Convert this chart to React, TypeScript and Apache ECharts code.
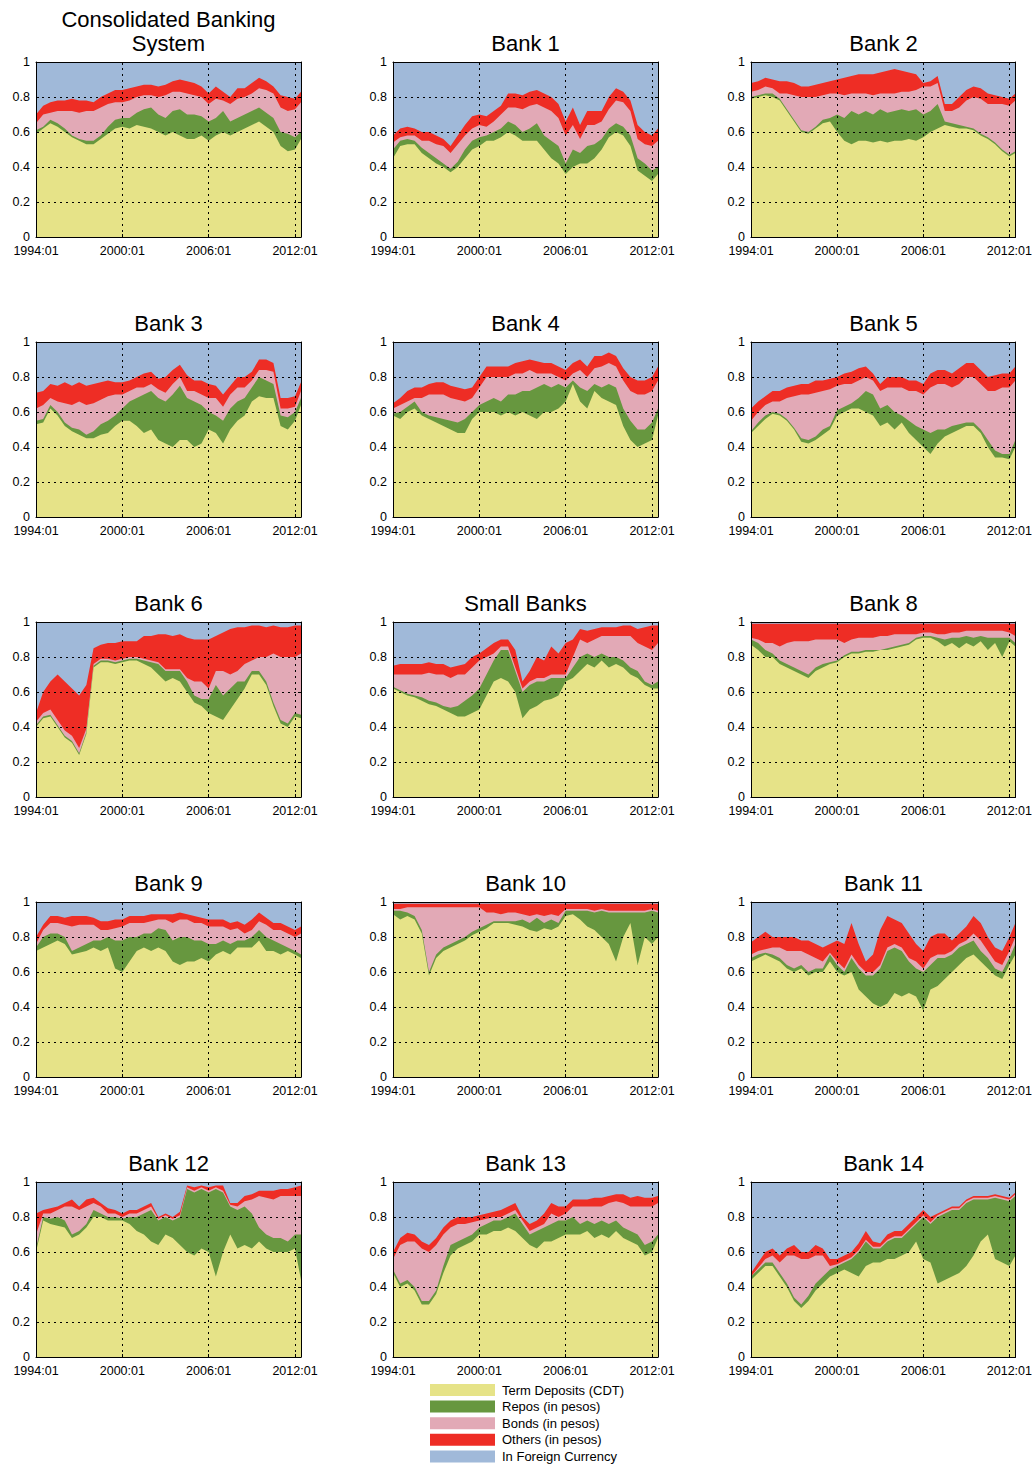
import React, { useEffect, useRef } from "react";
import * as echarts from "echarts";

// Months since 1994:01 (semi-annual readings, last point = end of sample)
const months = [0, 6, 12, 18, 24, 30, 36, 42, 48, 54, 60, 66, 72, 78, 84, 90, 96, 102, 108, 114, 120, 126, 132, 138, 144, 150, 156, 162, 168, 174, 180, 186, 192, 198, 204, 210, 216, 221];
const tickMonths = [0, 72, 144, 216];
const tickLabels = ["1994:01", "2000:01", "2006:01", "2012:01"];

const categoryNames = ["Term Deposits (CDT)", "Repos (in pesos)", "Bonds (in pesos)", "Others (in pesos)", "In Foreign Currency"];
const categoryColors = ["#e6e388", "#67973f", "#e2a9b6", "#ee2d25", "#a0b9d9"];

// Cumulative shares (top of each layer): TD, TD+Repo, +Bonds, +Others. Foreign currency fills the rest up to 1.
const cbsTD = [0.59,0.62,0.65,0.63,0.60,0.57,0.55,0.53,0.53,0.56, 0.59,0.62,0.63,0.62,0.64,0.63,0.62,0.60,0.58,0.60, 0.58,0.56,0.56,0.58,0.55,0.58,0.60,0.58,0.60,0.62, 0.64,0.66,0.63,0.60,0.52,0.49,0.50,0.56];
const cbsRepo = [0.61,0.63,0.67,0.65,0.62,0.58,0.56,0.55,0.55,0.58, 0.63,0.67,0.68,0.68,0.71,0.73,0.74,0.70,0.68,0.72, 0.73,0.70,0.70,0.69,0.66,0.68,0.72,0.66,0.68,0.70, 0.72,0.74,0.71,0.68,0.60,0.59,0.57,0.60];
const cbsBonds = [0.65,0.70,0.71,0.72,0.72,0.72,0.71,0.72,0.72,0.74, 0.76,0.77,0.77,0.78,0.80,0.81,0.81,0.80,0.81,0.83, 0.83,0.82,0.81,0.80,0.76,0.79,0.78,0.76,0.79,0.80, 0.82,0.85,0.84,0.82,0.74,0.72,0.73,0.77];
const cbsOthers = [0.70,0.75,0.77,0.78,0.78,0.79,0.78,0.78,0.77,0.80, 0.82,0.84,0.84,0.85,0.86,0.87,0.87,0.86,0.87,0.89, 0.90,0.89,0.88,0.86,0.82,0.86,0.83,0.80,0.85,0.85, 0.88,0.91,0.89,0.86,0.81,0.80,0.79,0.83];

const b1TD = [0.45,0.52,0.53,0.53,0.48,0.45,0.42,0.40,0.37,0.40, 0.45,0.50,0.52,0.55,0.55,0.57,0.60,0.58,0.55,0.55, 0.55,0.50,0.45,0.42,0.36,0.40,0.42,0.42,0.45,0.50, 0.57,0.60,0.58,0.52,0.38,0.35,0.32,0.36];
const b1Repo = [0.50,0.55,0.56,0.55,0.51,0.48,0.45,0.42,0.39,0.43, 0.50,0.55,0.57,0.58,0.60,0.62,0.66,0.64,0.60,0.62, 0.65,0.58,0.55,0.52,0.42,0.50,0.48,0.52,0.53,0.56, 0.62,0.65,0.63,0.58,0.45,0.42,0.38,0.40];
const b1Bonds = [0.54,0.57,0.58,0.58,0.55,0.55,0.53,0.52,0.48,0.53, 0.58,0.62,0.64,0.63,0.66,0.70,0.74,0.74,0.73,0.75, 0.76,0.74,0.72,0.68,0.58,0.64,0.56,0.64,0.64,0.66, 0.73,0.78,0.77,0.72,0.56,0.53,0.52,0.55];
const b1Others = [0.58,0.62,0.63,0.62,0.60,0.60,0.58,0.56,0.52,0.58, 0.64,0.69,0.70,0.69,0.72,0.75,0.82,0.82,0.81,0.83, 0.84,0.82,0.80,0.76,0.66,0.74,0.64,0.72,0.72,0.72, 0.80,0.85,0.83,0.78,0.64,0.60,0.58,0.62];

const b2TD = [0.79,0.80,0.81,0.80,0.78,0.72,0.66,0.60,0.59,0.62, 0.65,0.66,0.60,0.55,0.53,0.55,0.55,0.54,0.55,0.54, 0.55,0.55,0.56,0.55,0.57,0.60,0.62,0.64,0.63,0.62, 0.62,0.61,0.58,0.56,0.53,0.49,0.46,0.48];
const b2Repo = [0.80,0.81,0.82,0.82,0.79,0.73,0.67,0.61,0.60,0.63, 0.67,0.68,0.70,0.68,0.72,0.70,0.72,0.70,0.73,0.71, 0.72,0.73,0.72,0.73,0.70,0.72,0.76,0.66,0.65,0.64, 0.63,0.62,0.59,0.57,0.54,0.50,0.47,0.49];
const b2Bonds = [0.83,0.84,0.86,0.85,0.82,0.82,0.81,0.80,0.80,0.80, 0.81,0.82,0.82,0.81,0.82,0.82,0.82,0.81,0.82,0.82, 0.82,0.83,0.83,0.84,0.86,0.86,0.88,0.72,0.72,0.74, 0.78,0.80,0.79,0.76,0.76,0.76,0.75,0.78];
const b2Others = [0.88,0.89,0.91,0.90,0.89,0.89,0.88,0.86,0.86,0.87, 0.88,0.89,0.90,0.91,0.92,0.93,0.93,0.93,0.94,0.95, 0.96,0.95,0.94,0.93,0.88,0.89,0.92,0.76,0.76,0.80, 0.84,0.86,0.85,0.82,0.81,0.80,0.79,0.82];

const b3TD = [0.53,0.54,0.62,0.58,0.52,0.49,0.47,0.45,0.45,0.47, 0.48,0.52,0.55,0.55,0.52,0.48,0.50,0.44,0.42,0.40, 0.44,0.44,0.40,0.42,0.50,0.48,0.42,0.50,0.55,0.58, 0.66,0.69,0.68,0.68,0.52,0.50,0.55,0.64];
const b3Repo = [0.55,0.56,0.64,0.60,0.54,0.51,0.50,0.47,0.49,0.53, 0.55,0.58,0.62,0.66,0.68,0.70,0.72,0.68,0.66,0.70, 0.75,0.68,0.66,0.64,0.60,0.58,0.55,0.62,0.66,0.68, 0.74,0.80,0.78,0.76,0.58,0.57,0.60,0.68];
const b3Bonds = [0.62,0.64,0.68,0.66,0.65,0.64,0.66,0.64,0.65,0.67, 0.69,0.70,0.70,0.72,0.74,0.74,0.76,0.73,0.71,0.76, 0.80,0.72,0.72,0.70,0.68,0.68,0.63,0.70,0.74,0.74, 0.78,0.84,0.84,0.83,0.62,0.62,0.63,0.72];
const b3Others = [0.71,0.72,0.76,0.75,0.77,0.75,0.77,0.75,0.76,0.77, 0.78,0.77,0.77,0.78,0.80,0.82,0.83,0.79,0.80,0.84, 0.87,0.81,0.78,0.78,0.76,0.75,0.70,0.75,0.80,0.80, 0.83,0.90,0.90,0.88,0.68,0.68,0.69,0.77];

const b4TD = [0.58,0.56,0.60,0.62,0.58,0.56,0.54,0.52,0.50,0.48, 0.48,0.56,0.60,0.60,0.60,0.58,0.60,0.58,0.60,0.58, 0.56,0.60,0.60,0.62,0.66,0.76,0.66,0.62,0.72,0.68, 0.66,0.64,0.52,0.44,0.40,0.42,0.44,0.58];
const b4Repo = [0.59,0.60,0.63,0.66,0.60,0.58,0.57,0.56,0.55,0.54, 0.56,0.60,0.64,0.66,0.68,0.66,0.70,0.70,0.72,0.72, 0.74,0.76,0.74,0.76,0.74,0.78,0.74,0.72,0.76,0.74, 0.76,0.74,0.62,0.55,0.50,0.50,0.54,0.62];
const b4Bonds = [0.62,0.64,0.66,0.68,0.68,0.70,0.70,0.70,0.68,0.67, 0.66,0.68,0.74,0.80,0.80,0.80,0.80,0.82,0.82,0.84, 0.82,0.82,0.82,0.80,0.78,0.82,0.84,0.80,0.85,0.86, 0.88,0.86,0.78,0.72,0.70,0.70,0.72,0.78];
const b4Others = [0.65,0.68,0.72,0.74,0.74,0.76,0.77,0.77,0.75,0.74, 0.73,0.74,0.80,0.86,0.86,0.86,0.86,0.88,0.89,0.90, 0.89,0.88,0.88,0.86,0.84,0.88,0.90,0.86,0.92,0.92, 0.94,0.92,0.85,0.80,0.78,0.78,0.80,0.86];

const b5TD = [0.48,0.52,0.56,0.59,0.58,0.55,0.50,0.43,0.42,0.44, 0.47,0.50,0.58,0.60,0.62,0.62,0.60,0.58,0.52,0.54, 0.50,0.54,0.48,0.44,0.40,0.36,0.42,0.46,0.48,0.50, 0.52,0.52,0.48,0.40,0.34,0.34,0.33,0.40];
const b5Repo = [0.49,0.54,0.58,0.60,0.59,0.56,0.51,0.45,0.44,0.46, 0.50,0.52,0.61,0.63,0.65,0.68,0.72,0.70,0.62,0.64, 0.60,0.58,0.55,0.52,0.50,0.48,0.50,0.50,0.52,0.53, 0.54,0.54,0.50,0.44,0.38,0.36,0.36,0.44];
const b5Bonds = [0.55,0.60,0.64,0.66,0.66,0.68,0.69,0.70,0.70,0.71, 0.72,0.73,0.75,0.76,0.76,0.78,0.80,0.78,0.72,0.74, 0.74,0.74,0.72,0.72,0.70,0.74,0.76,0.76,0.74,0.76, 0.80,0.80,0.76,0.72,0.72,0.74,0.74,0.78];
const b5Others = [0.62,0.66,0.69,0.72,0.72,0.74,0.75,0.76,0.76,0.78, 0.78,0.79,0.80,0.82,0.83,0.85,0.86,0.82,0.76,0.80, 0.80,0.80,0.78,0.78,0.76,0.82,0.84,0.84,0.82,0.85, 0.88,0.88,0.84,0.80,0.81,0.82,0.82,0.86];

const b6TD = [0.40,0.45,0.46,0.40,0.34,0.31,0.24,0.36,0.74,0.77, 0.77,0.76,0.77,0.78,0.78,0.76,0.74,0.70,0.66,0.68, 0.66,0.60,0.54,0.52,0.48,0.46,0.44,0.50,0.56,0.62, 0.70,0.70,0.64,0.52,0.42,0.40,0.46,0.45];
const b6Repo = [0.41,0.46,0.47,0.41,0.35,0.32,0.25,0.37,0.75,0.78, 0.78,0.77,0.78,0.79,0.79,0.78,0.77,0.76,0.72,0.72, 0.72,0.66,0.58,0.56,0.56,0.64,0.58,0.62,0.66,0.66, 0.72,0.72,0.66,0.54,0.44,0.42,0.48,0.47];
const b6Bonds = [0.43,0.48,0.50,0.44,0.38,0.35,0.28,0.39,0.76,0.79, 0.79,0.78,0.79,0.80,0.80,0.79,0.78,0.77,0.73,0.73, 0.73,0.68,0.66,0.66,0.62,0.72,0.72,0.70,0.72,0.76, 0.78,0.80,0.80,0.82,0.80,0.80,0.80,0.82];
const b6Others = [0.48,0.60,0.66,0.70,0.66,0.62,0.58,0.64,0.85,0.87, 0.88,0.88,0.89,0.89,0.89,0.92,0.92,0.93,0.93,0.92, 0.93,0.91,0.90,0.90,0.90,0.92,0.94,0.96,0.97,0.97, 0.98,0.98,0.97,0.98,0.97,0.97,0.98,0.98];

const smTD = [0.62,0.60,0.58,0.57,0.55,0.53,0.52,0.50,0.48,0.46, 0.46,0.48,0.50,0.58,0.66,0.68,0.66,0.60,0.45,0.50, 0.52,0.55,0.56,0.58,0.66,0.68,0.72,0.76,0.74,0.78, 0.74,0.76,0.74,0.70,0.68,0.64,0.62,0.62];
const smRepo = [0.63,0.61,0.59,0.58,0.57,0.55,0.54,0.52,0.51,0.52, 0.55,0.58,0.62,0.70,0.78,0.84,0.84,0.72,0.60,0.64, 0.66,0.66,0.68,0.68,0.68,0.74,0.80,0.82,0.80,0.82, 0.80,0.80,0.78,0.74,0.72,0.66,0.64,0.66];
const smBonds = [0.70,0.70,0.70,0.70,0.70,0.71,0.70,0.70,0.68,0.70, 0.70,0.74,0.78,0.80,0.82,0.86,0.86,0.74,0.62,0.66, 0.68,0.68,0.70,0.70,0.70,0.80,0.90,0.88,0.90,0.92, 0.92,0.92,0.92,0.92,0.88,0.86,0.84,0.88];
const smOthers = [0.75,0.76,0.76,0.76,0.76,0.77,0.76,0.76,0.74,0.75, 0.76,0.80,0.82,0.85,0.88,0.90,0.90,0.84,0.66,0.72, 0.80,0.78,0.86,0.82,0.88,0.90,0.96,0.95,0.96,0.97, 0.97,0.97,0.98,0.98,0.96,0.97,0.98,0.98];

const b8TD = [0.87,0.84,0.80,0.80,0.76,0.74,0.72,0.70,0.68,0.72, 0.74,0.76,0.77,0.80,0.82,0.82,0.83,0.83,0.84,0.84, 0.85,0.86,0.87,0.90,0.91,0.91,0.89,0.86,0.88,0.85, 0.88,0.86,0.89,0.84,0.88,0.80,0.89,0.86];
const b8Repo = [0.90,0.88,0.84,0.82,0.78,0.76,0.74,0.72,0.70,0.74, 0.76,0.77,0.78,0.81,0.83,0.83,0.84,0.84,0.84,0.85, 0.86,0.87,0.88,0.91,0.92,0.92,0.91,0.90,0.91,0.91, 0.92,0.91,0.92,0.91,0.91,0.91,0.91,0.88];
const b8Bonds = [0.91,0.90,0.88,0.88,0.86,0.88,0.89,0.89,0.89,0.90, 0.90,0.90,0.90,0.88,0.90,0.91,0.91,0.91,0.92,0.92, 0.93,0.93,0.93,0.93,0.94,0.94,0.93,0.93,0.94,0.94, 0.95,0.95,0.95,0.95,0.95,0.95,0.94,0.92];
const b8Others = [0.99,0.99,0.99,0.99,0.99,0.99,0.99,0.99,0.99,0.99, 0.99,0.99,0.99,0.99,0.99,0.99,0.99,0.99,0.99,0.99, 0.99,0.99,0.99,0.99,0.99,0.99,0.99,0.99,0.99,0.99, 0.99,0.99,0.99,0.99,0.99,0.99,0.99,0.99];

const b9TD = [0.72,0.74,0.76,0.78,0.76,0.70,0.71,0.72,0.74,0.72, 0.74,0.62,0.60,0.66,0.72,0.74,0.72,0.74,0.72,0.66, 0.64,0.66,0.66,0.68,0.66,0.70,0.72,0.70,0.74,0.74, 0.74,0.78,0.72,0.72,0.70,0.72,0.70,0.68];
const b9Repo = [0.74,0.80,0.82,0.82,0.80,0.72,0.74,0.76,0.78,0.78, 0.80,0.78,0.78,0.80,0.80,0.82,0.82,0.85,0.84,0.78, 0.80,0.80,0.78,0.78,0.76,0.76,0.78,0.76,0.78,0.78, 0.80,0.84,0.80,0.78,0.76,0.74,0.72,0.70];
const b9Bonds = [0.76,0.84,0.88,0.88,0.87,0.86,0.87,0.87,0.87,0.84, 0.84,0.85,0.86,0.88,0.88,0.88,0.89,0.90,0.90,0.88, 0.90,0.90,0.88,0.88,0.86,0.86,0.86,0.84,0.85,0.82, 0.84,0.89,0.87,0.84,0.84,0.82,0.80,0.82];
const b9Others = [0.80,0.87,0.92,0.92,0.91,0.92,0.92,0.92,0.91,0.89, 0.89,0.90,0.90,0.92,0.92,0.92,0.93,0.93,0.93,0.93, 0.94,0.93,0.92,0.91,0.90,0.90,0.90,0.88,0.89,0.87, 0.90,0.94,0.91,0.88,0.88,0.86,0.84,0.86];

const b10TD = [0.93,0.90,0.92,0.90,0.82,0.58,0.68,0.72,0.74,0.76, 0.78,0.81,0.83,0.85,0.88,0.88,0.88,0.87,0.86,0.84, 0.83,0.85,0.84,0.86,0.92,0.93,0.90,0.86,0.84,0.80, 0.76,0.66,0.80,0.88,0.64,0.80,0.76,0.80];
const b10Repo = [0.95,0.95,0.94,0.92,0.84,0.60,0.70,0.74,0.76,0.78, 0.80,0.83,0.85,0.87,0.89,0.89,0.89,0.89,0.90,0.88, 0.91,0.88,0.90,0.88,0.95,0.95,0.95,0.95,0.94,0.95, 0.94,0.94,0.94,0.94,0.94,0.94,0.95,0.94];
const b10Bonds = [0.96,0.96,0.97,0.97,0.97,0.97,0.97,0.97,0.97,0.97, 0.97,0.97,0.97,0.94,0.94,0.93,0.94,0.94,0.93,0.92, 0.93,0.92,0.93,0.92,0.96,0.96,0.96,0.96,0.95,0.96, 0.95,0.95,0.95,0.95,0.95,0.95,0.96,0.95];
const b10Others = [0.99,0.99,0.99,0.99,0.99,0.99,0.99,0.99,0.99,0.99, 0.99,0.99,0.99,0.99,0.99,0.99,0.99,0.99,0.99,0.99, 0.99,0.99,0.99,0.99,0.99,0.99,0.99,0.99,0.99,0.99, 0.99,0.99,0.99,0.99,0.99,0.99,0.99,0.99];

const b11TD = [0.66,0.68,0.70,0.68,0.66,0.62,0.60,0.62,0.58,0.60, 0.60,0.66,0.60,0.58,0.60,0.50,0.46,0.42,0.40,0.42, 0.48,0.46,0.48,0.46,0.38,0.50,0.52,0.56,0.60,0.64, 0.68,0.70,0.66,0.62,0.58,0.56,0.64,0.70];
const b11Repo = [0.68,0.70,0.71,0.70,0.68,0.64,0.62,0.64,0.60,0.62, 0.62,0.70,0.64,0.60,0.68,0.62,0.58,0.58,0.62,0.72, 0.74,0.72,0.66,0.62,0.60,0.64,0.68,0.68,0.70,0.74, 0.76,0.78,0.72,0.68,0.62,0.60,0.68,0.76];
const b11Bonds = [0.70,0.72,0.73,0.74,0.74,0.72,0.72,0.72,0.70,0.68, 0.66,0.71,0.66,0.62,0.70,0.64,0.60,0.60,0.64,0.74, 0.76,0.74,0.68,0.66,0.62,0.68,0.70,0.70,0.72,0.76, 0.78,0.82,0.78,0.72,0.66,0.64,0.72,0.80];
const b11Others = [0.77,0.80,0.83,0.80,0.80,0.80,0.80,0.78,0.78,0.76, 0.74,0.76,0.78,0.76,0.88,0.76,0.66,0.70,0.84,0.92, 0.90,0.88,0.82,0.76,0.72,0.80,0.82,0.82,0.78,0.82, 0.86,0.92,0.88,0.80,0.74,0.72,0.80,0.88];

const b12TD = [0.60,0.78,0.76,0.75,0.74,0.68,0.70,0.74,0.80,0.80, 0.78,0.78,0.78,0.76,0.72,0.70,0.66,0.64,0.70,0.68, 0.64,0.60,0.58,0.62,0.60,0.46,0.60,0.70,0.62,0.64, 0.62,0.66,0.62,0.60,0.60,0.60,0.62,0.44];
const b12Repo = [0.62,0.80,0.79,0.80,0.78,0.70,0.72,0.76,0.84,0.82, 0.80,0.80,0.79,0.80,0.80,0.82,0.84,0.78,0.80,0.78, 0.80,0.96,0.94,0.96,0.94,0.96,0.94,0.86,0.84,0.86, 0.82,0.74,0.70,0.68,0.68,0.66,0.70,0.70];
const b12Bonds = [0.70,0.82,0.82,0.84,0.86,0.86,0.84,0.86,0.88,0.86, 0.82,0.82,0.80,0.82,0.82,0.84,0.86,0.79,0.81,0.79, 0.81,0.97,0.95,0.97,0.95,0.97,0.95,0.87,0.86,0.89, 0.90,0.92,0.91,0.90,0.92,0.92,0.92,0.92];
const b12Others = [0.82,0.84,0.85,0.86,0.88,0.90,0.86,0.90,0.91,0.88, 0.85,0.84,0.82,0.84,0.84,0.86,0.88,0.80,0.82,0.80, 0.83,0.98,0.97,0.98,0.97,0.98,0.98,0.88,0.88,0.92, 0.93,0.95,0.95,0.95,0.96,0.96,0.97,0.98];

const b13TD = [0.48,0.40,0.42,0.38,0.30,0.30,0.36,0.48,0.58,0.62, 0.64,0.66,0.70,0.70,0.72,0.72,0.74,0.72,0.68,0.64, 0.62,0.66,0.66,0.68,0.70,0.70,0.70,0.72,0.68,0.70, 0.68,0.72,0.68,0.66,0.64,0.58,0.60,0.68];
const b13Repo = [0.50,0.42,0.44,0.40,0.32,0.32,0.38,0.52,0.64,0.66, 0.68,0.70,0.74,0.76,0.78,0.78,0.80,0.82,0.76,0.70, 0.72,0.74,0.76,0.78,0.78,0.80,0.76,0.78,0.76,0.78, 0.76,0.78,0.74,0.72,0.70,0.64,0.66,0.70];
const b13Bonds = [0.56,0.64,0.66,0.66,0.62,0.60,0.64,0.70,0.74,0.76, 0.76,0.77,0.78,0.79,0.80,0.80,0.82,0.84,0.78,0.72, 0.74,0.76,0.82,0.80,0.82,0.86,0.86,0.86,0.86,0.86, 0.88,0.89,0.88,0.86,0.86,0.86,0.86,0.88];
const b13Others = [0.60,0.68,0.71,0.70,0.66,0.64,0.68,0.74,0.78,0.80, 0.80,0.80,0.81,0.82,0.83,0.84,0.86,0.88,0.80,0.76, 0.78,0.82,0.88,0.86,0.86,0.90,0.90,0.90,0.91,0.91, 0.92,0.93,0.93,0.91,0.92,0.91,0.91,0.92];

const b14TD = [0.44,0.48,0.52,0.52,0.46,0.40,0.32,0.28,0.32,0.38, 0.42,0.46,0.48,0.50,0.48,0.46,0.52,0.54,0.54,0.56, 0.56,0.58,0.60,0.66,0.56,0.54,0.42,0.44,0.46,0.48, 0.52,0.58,0.66,0.70,0.56,0.54,0.52,0.58];
const b14Repo = [0.46,0.50,0.54,0.54,0.48,0.42,0.34,0.30,0.35,0.42, 0.46,0.50,0.52,0.54,0.56,0.60,0.66,0.62,0.62,0.66, 0.68,0.68,0.72,0.76,0.80,0.76,0.80,0.82,0.84,0.84, 0.88,0.90,0.90,0.90,0.91,0.90,0.89,0.92];
const b14Bonds = [0.46,0.51,0.56,0.58,0.54,0.58,0.58,0.56,0.56,0.58, 0.58,0.52,0.53,0.55,0.57,0.61,0.67,0.63,0.63,0.67, 0.69,0.69,0.73,0.77,0.81,0.77,0.81,0.83,0.85,0.85, 0.89,0.91,0.91,0.91,0.92,0.91,0.90,0.93];
const b14Others = [0.48,0.54,0.60,0.62,0.58,0.62,0.64,0.60,0.60,0.64, 0.62,0.56,0.56,0.58,0.60,0.65,0.72,0.66,0.65,0.70, 0.72,0.72,0.76,0.80,0.84,0.80,0.82,0.84,0.86,0.86, 0.90,0.92,0.92,0.92,0.93,0.92,0.91,0.94];

const panels = [
  { title: "Consolidated Banking\nSystem", td: cbsTD, repo: cbsRepo, bonds: cbsBonds, others: cbsOthers },
  { title: "Bank 1", td: b1TD, repo: b1Repo, bonds: b1Bonds, others: b1Others },
  { title: "Bank 2", td: b2TD, repo: b2Repo, bonds: b2Bonds, others: b2Others },
  { title: "Bank 3", td: b3TD, repo: b3Repo, bonds: b3Bonds, others: b3Others },
  { title: "Bank 4", td: b4TD, repo: b4Repo, bonds: b4Bonds, others: b4Others },
  { title: "Bank 5", td: b5TD, repo: b5Repo, bonds: b5Bonds, others: b5Others },
  { title: "Bank 6", td: b6TD, repo: b6Repo, bonds: b6Bonds, others: b6Others },
  { title: "Small Banks", td: smTD, repo: smRepo, bonds: smBonds, others: smOthers },
  { title: "Bank 8", td: b8TD, repo: b8Repo, bonds: b8Bonds, others: b8Others },
  { title: "Bank 9", td: b9TD, repo: b9Repo, bonds: b9Bonds, others: b9Others },
  { title: "Bank 10", td: b10TD, repo: b10Repo, bonds: b10Bonds, others: b10Others },
  { title: "Bank 11", td: b11TD, repo: b11Repo, bonds: b11Bonds, others: b11Others },
  { title: "Bank 12", td: b12TD, repo: b12Repo, bonds: b12Bonds, others: b12Others },
  { title: "Bank 13", td: b13TD, repo: b13Repo, bonds: b13Bonds, others: b13Others },
  { title: "Bank 14", td: b14TD, repo: b14Repo, bonds: b14Bonds, others: b14Others },
];

const FONT = "'Liberation Sans', Arial, Helvetica, sans-serif";
const colLeft = [36, 393, 751];
const rowTop = [62, 342, 622, 902, 1182];
const plotW = 265;
const plotH = 175;

function buildOption() {
  const grid: any[] = [];
  const xAxis: any[] = [];
  const yAxis: any[] = [];
  const series: any[] = [];
  const title: any[] = [];
  const dotted = { show: true, lineStyle: { color: "#000", width: 1, type: [2, 4] } };
  const frameLine = { show: true, onZero: false, lineStyle: { color: "#000", width: 1 } };
  const innerTick = { show: true, inside: true, length: 3, lineStyle: { color: "#000", width: 1 } };
  const labelStyle = { color: "#000", fontSize: 12.5, fontFamily: FONT };

  panels.forEach((p, i) => {
    const r = Math.floor(i / 3);
    const c = i % 3;
    grid.push({
      left: colLeft[c], top: rowTop[r], width: plotW, height: plotH,
      show: true, backgroundColor: categoryColors[4], borderWidth: 0,
    });
    xAxis.push({
      gridIndex: i, type: "value", position: "bottom", min: 0, max: 221, interval: 72, z: 10,
      axisLine: frameLine, axisTick: innerTick, splitLine: dotted,
      axisLabel: {
        ...labelStyle, margin: 7,
        formatter: (v: number) => { const k = tickMonths.indexOf(v); return k >= 0 ? tickLabels[k] : ""; },
      },
    });
    xAxis.push({
      gridIndex: i, type: "value", position: "top", min: 0, max: 221, interval: 72, z: 10,
      axisLine: frameLine, axisTick: innerTick, splitLine: { show: false }, axisLabel: { show: false },
    });
    yAxis.push({
      gridIndex: i, type: "value", position: "left", min: 0, max: 1, interval: 0.2, z: 10,
      axisLine: frameLine, axisTick: innerTick, splitLine: dotted,
      axisLabel: { ...labelStyle, margin: 6 },
    });
    yAxis.push({
      gridIndex: i, type: "value", position: "right", min: 0, max: 1, interval: 0.2, z: 10,
      axisLine: frameLine, axisTick: innerTick, splitLine: { show: false }, axisLabel: { show: false },
    });
    const layers = [
      { vals: p.others, color: categoryColors[3], name: categoryNames[3] },
      { vals: p.bonds, color: categoryColors[2], name: categoryNames[2] },
      { vals: p.repo, color: categoryColors[1], name: categoryNames[1] },
      { vals: p.td, color: categoryColors[0], name: categoryNames[0] },
    ];
    layers.forEach((L, k) => {
      series.push({
        type: "line", name: L.name, xAxisIndex: 2 * i, yAxisIndex: 2 * i,
        data: months.map((m, j) => [m, L.vals[j]]),
        symbol: "none", showSymbol: false, silent: true, z: 2 + k,
        lineStyle: { width: 0, opacity: 0 },
        areaStyle: { color: L.color, opacity: 1, origin: "start" },
      });
    });
    const multi = p.title.includes("\n");
    title.push({
      text: p.title,
      left: colLeft[c] + plotW / 2,
      textAlign: "center",
      top: rowTop[r] - (multi ? 55 : 31),
      padding: 0,
      textStyle: { fontSize: 22, fontWeight: "normal", color: "#000", fontFamily: FONT, lineHeight: 24 },
    });
  });

  const legendTop = 1384;
  const legendStep = 16.6;
  const graphic: any[] = [];
  categoryNames.forEach((name, k) => {
    graphic.push({
      type: "rect", x: 430, y: legendTop + k * legendStep,
      shape: { x: 0, y: 0, width: 65, height: 12 },
      style: { fill: categoryColors[k] },
    });
    graphic.push({
      type: "text", x: 502, y: legendTop + k * legendStep + 6,
      style: { text: name, fill: "#000", font: `13px ${FONT}`, align: "left", verticalAlign: "middle" },
    });
  });

  return { animation: false, backgroundColor: "#fff", title, grid, xAxis, yAxis, series, graphic };
}

export default function App() {
  const ref = useRef<HTMLDivElement>(null);
  useEffect(() => {
    document.body.style.margin = "0";
    if (!ref.current) return;
    const chart = echarts.init(ref.current, null, { renderer: "svg" });
    chart.setOption(buildOption() as any);
    return () => chart.dispose();
  }, []);
  return <div ref={ref} style={{ width: 1035, height: 1466 }} />;
}
